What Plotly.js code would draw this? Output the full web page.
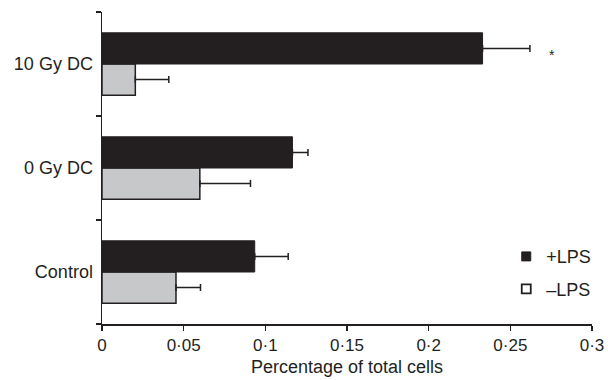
<!DOCTYPE html>
<html>
<head>
<meta charset="utf-8">
<script src="https://cdn.plot.ly/plotly-3.0.1.min.js"></script>
<style>html,body{margin:0;padding:0;background:#fff}#chart{width:608px;height:380px}</style>
</head>
<body>
<div id="chart"></div>
<script>
// Data
var categories = ['Control', '0 Gy DC', '10 Gy DC'];
var plusLPS = [0.0935, 0.1166, 0.233];
var plusLPSErr = [0.0205, 0.0095, 0.029];
var minusLPS = [0.0453, 0.0599, 0.0204];
var minusLPSErr = [0.015, 0.031, 0.0205];
var xTickVals = [0, 0.05, 0.1, 0.15, 0.2, 0.25, 0.3];
var xTickText = ['0', '0·05', '0·1', '0·15', '0·2', '0·25', '0·3'];
var seriesNames = ['+LPS', '\u2013LPS'];

var ink = '#231f20';
var grey = '#c7c8ca';
var zeros = categories.map(function(){ return 0; });

var traces = [
  {
    type: 'bar', orientation: 'h', name: seriesNames[1], showlegend: false,
    y: categories, x: minusLPS,
    marker: {color: grey, line: {color: ink, width: 1.5}},
    error_x: {type: 'data', array: minusLPSErr, arrayminus: zeros, symmetric: false,
              color: ink, thickness: 1.5, width: 3.5}
  },
  {
    type: 'bar', orientation: 'h', name: seriesNames[0], showlegend: false,
    y: categories, x: plusLPS,
    marker: {color: ink, line: {color: ink, width: 1}},
    error_x: {type: 'data', array: plusLPSErr, arrayminus: zeros, symmetric: false,
              color: ink, thickness: 1.5, width: 3.5}
  },
  {
    type: 'scatter', mode: 'markers', name: seriesNames[0], legendgroup: 'a',
    x: [null], y: [null],
    marker: {symbol: 'square', size: 9, color: ink, line: {color: ink, width: 1}}
  },
  {
    type: 'scatter', mode: 'markers', name: seriesNames[1], legendgroup: 'b',
    x: [null], y: [null],
    marker: {symbol: 'square', size: 9, color: '#ffffff', line: {color: ink, width: 1.8}}
  }
];

var layout = {
  width: 608, height: 380,
  margin: {l: 102, r: 12, t: 12, b: 56},
  paper_bgcolor: '#ffffff', plot_bgcolor: '#ffffff',
  font: {family: 'Liberation Sans, Arial, sans-serif', size: 18, color: ink},
  barmode: 'group', bargap: 0.4, bargroupgap: 0,
  showlegend: true,
  legend: {x: 0.825, y: 0.275, xanchor: 'left', yanchor: 'top',
           traceorder: 'grouped', tracegroupgap: 6,
           font: {size: 18, color: ink}, bgcolor: 'rgba(0,0,0,0)'},
  xaxis: {
    range: [0, 0.3], tickvals: xTickVals, ticktext: xTickText,
    ticks: 'outside', ticklen: 5, tickwidth: 1.5, tickcolor: ink,
    showline: true, linewidth: 1.5, linecolor: ink,
    showgrid: false, zeroline: false, tickfont: {size: 17},
    title: {text: 'Percentage of total cells', font: {size: 18}, standoff: 6}
  },
  yaxis: {
    type: 'category', categoryorder: 'array', categoryarray: categories,
    range: [-0.5, 2.5], tickson: 'boundaries',
    ticks: 'outside', ticklen: 5, tickwidth: 1.5, tickcolor: ink,
    showline: true, linewidth: 1.5, linecolor: ink,
    showgrid: false, zeroline: false, tickfont: {size: 18},
    ticklabelstandoff: 4
  },
  annotations: [
    {x: 0.2755, y: '10 Gy DC', xref: 'x', yref: 'y', text: '*', showarrow: false,
     yshift: 9, font: {size: 14, color: ink}}
  ]
};

Plotly.newPlot('chart', traces, layout, {displayModeBar: false, staticPlot: true});
</script>
</body>
</html>
